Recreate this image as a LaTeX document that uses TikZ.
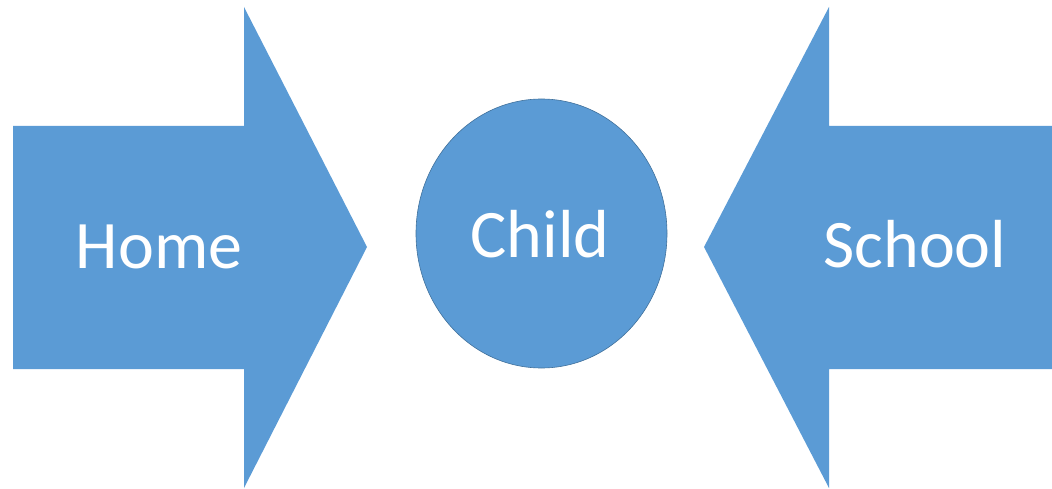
\documentclass[tikz,border=0pt]{standalone}
\usepackage{fontspec}
\setmainfont{Carlito}
\usetikzlibrary{shapes.geometric}
\definecolor{fillblue}{HTML}{5B9BD5}
\definecolor{edgeblue}{HTML}{41719C}
\begin{document}
\begin{tikzpicture}[x=1pt,y=-1pt,
  shape fill/.style={fill=fillblue, draw=none},
  lbl/.style={text=white, anchor=base, inner sep=0pt, font=\fontsize{68}{82}\selectfont}]
\useasboundingbox (0,0) rectangle (1052,489);
% left arrow
\path[shape fill] (13,126) -- (244,126) -- (244,7) -- (367,247) -- (244,488) -- (244,369) -- (13,369) -- cycle;
% right arrow
\path[shape fill] (1052,126) -- (829,126) -- (829,7) -- (704,247) -- (829,488) -- (829,369) -- (1052,369) -- cycle;
% circle
\node[ellipse, minimum width=251pt, minimum height=269pt, inner sep=0pt, fill=fillblue, draw=edgeblue, line width=0.6pt] (child) at (541.5,233.5) {};
\node[lbl] (homet) at (159,268) {Home};
\node[lbl] (childt) at (540,257) {Child};
\node[lbl] (schoolt) at (915,267) {School};
\end{tikzpicture}
\end{document}
